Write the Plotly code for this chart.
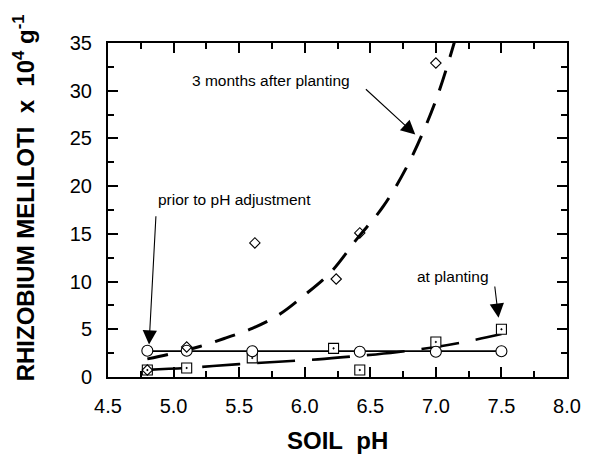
import plotly.graph_objects as go

# ---- data ----
ph_prior = [4.8, 5.1, 5.6, 6.42, 7.0, 7.5]
prior_vals = [2.75, 2.75, 2.7, 2.65, 2.65, 2.7]
prior_fit_ph = [4.8, 7.5]
prior_fit_vals = [2.72, 2.72]

ph_planting = [4.8, 5.1, 5.6, 6.22, 6.42, 7.0, 7.5]
planting_vals = [0.73, 0.95, 2.0, 3.0, 0.73, 3.67, 5.0]
planting_fit_ph = [4.8, 5.1, 5.5, 5.8, 6.1, 6.4, 6.7, 7.0, 7.3, 7.5]
planting_fit_vals = [0.75, 0.95, 1.35, 1.6, 1.85, 2.2, 2.6, 3.15, 3.9, 4.5]

ph_3mo = [4.8, 5.1, 5.62, 6.24, 6.42, 7.0]
mo3_vals = [0.73, 3.15, 14.05, 10.27, 15.1, 32.9]
mo3_fit_ph = [4.8, 5.0, 5.2, 5.4, 5.6, 5.8, 6.0, 6.2, 6.4, 6.6, 6.8, 7.0, 7.15]
mo3_fit_vals = [1.9, 2.5, 3.2, 4.1, 5.1, 6.5, 8.6, 11.0, 14.5, 17.9, 22.6, 29.0, 35.5]

x_ticks = [4.5, 5.0, 5.5, 6.0, 6.5, 7.0, 7.5, 8.0]
y_ticks = [0, 5, 10, 15, 20, 25, 30, 35]
x_range = [4.5, 8.0]
y_range = [0, 35]

FONT = "Arial, Liberation Sans, Helvetica, sans-serif"

fig = go.Figure()

fig.add_trace(go.Scatter(x=mo3_fit_ph, y=mo3_fit_vals, mode="lines",
                         line=dict(color="black", width=3, dash="21px,14px", shape="spline"),
                         hoverinfo="skip"))
fig.add_trace(go.Scatter(x=planting_fit_ph, y=planting_fit_vals, mode="lines",
                         line=dict(color="black", width=2.6, dash="38px,17px", shape="spline"),
                         hoverinfo="skip"))
fig.add_trace(go.Scatter(x=prior_fit_ph, y=prior_fit_vals, mode="lines",
                         line=dict(color="black", width=1.8), hoverinfo="skip"))

fig.add_trace(go.Scatter(x=ph_planting, y=planting_vals, mode="markers",
                         marker=dict(symbol="square-dot", size=10, color="white",
                                     line=dict(color="black", width=1.1))))
fig.add_trace(go.Scatter(x=ph_prior, y=prior_vals, mode="markers",
                         marker=dict(symbol="circle", size=11, color="white",
                                     line=dict(color="black", width=1.1))))
fig.add_trace(go.Scatter(x=ph_3mo, y=mo3_vals, mode="markers",
                         marker=dict(symbol="diamond-open", size=8, color="black",
                                     line=dict(color="black", width=1.1))))

tickfont = dict(family=FONT, size=20, color="black")
axis_common = dict(
    showline=True, linecolor="black", linewidth=2, mirror=True,
    ticks="inside", tickcolor="black", tickwidth=1.5, ticklen=10,
    showgrid=False, zeroline=False, tickfont=tickfont,
)
xminor = dict(ticks="inside", dtick=0.25, tick0=4.5, ticklen=6, tickwidth=1.5, tickcolor="black")
yminor = dict(ticks="inside", dtick=2.5, tick0=0, ticklen=6, tickwidth=1.5, tickcolor="black")

fig.update_layout(
    xaxis=dict(range=x_range, tickvals=x_ticks, ticktext=[f"{v:.1f}" for v in x_ticks],
               minor=xminor, ticklabelstandoff=10, **axis_common),
    yaxis=dict(range=y_range, tickvals=y_ticks, minor=yminor,
               ticklabelstandoff=10, **axis_common),
    xaxis2=dict(range=x_range, tickvals=x_ticks, overlaying="x", side="top", anchor="y",
                showticklabels=False, showline=False, showgrid=False, zeroline=False,
                ticks="inside", ticklen=10, tickwidth=1.5, tickcolor="black", minor=xminor),
    yaxis2=dict(range=y_range, tickvals=y_ticks, overlaying="y", side="right", anchor="x",
                showticklabels=False, showline=False, showgrid=False, zeroline=False,
                ticks="inside", ticklen=10, tickwidth=1.5, tickcolor="black", minor=yminor),
)
# invisible helper trace so the top/right tick axes are drawn
fig.add_trace(go.Scatter(x=[x_range[0]], y=[y_range[0]], xaxis="x2", yaxis="y2",
                         mode="markers", marker=dict(opacity=0), hoverinfo="skip"))

ann_font = dict(family=FONT, size=15.5, color="black")
arrow_style = dict(text="", showarrow=True, arrowhead=2, arrowsize=2.6, arrowwidth=1.1,
                   arrowcolor="black", xref="x", yref="y", axref="x", ayref="y")
annotations = [
    dict(x=5.74, y=31.1, xref="x", yref="y", text="3 months after planting",
         showarrow=False, font=ann_font),
    dict(x=5.466, y=18.55, xref="x", yref="y", text="prior to pH adjustment",
         showarrow=False, font=ann_font),
    dict(x=7.127, y=10.5, xref="x", yref="y", text="at planting",
         showarrow=False, font=ann_font),
    dict(x=6.843, y=25.4, ax=6.455, ay=30.3, **arrow_style),
    dict(x=4.813, y=3.4, ax=4.866, ay=17.0, **arrow_style),
    dict(x=7.478, y=6.2, ax=7.448, ay=9.64, **arrow_style),
    dict(x=0.5, y=-0.19, xref="paper", yref="paper", text="<b>SOIL&nbsp;&nbsp;pH</b>",
         showarrow=False, font=dict(family=FONT, size=24, color="black"),
         xanchor="center", yanchor="middle"),
    dict(x=-0.183, y=0.535, xref="paper", yref="paper",
         text="<b>RHIZOBIUM MELILOTI&nbsp;&nbsp;x&nbsp;&nbsp;10<sup>4</sup>&nbsp;g<sup>-1</sup></b>",
         showarrow=False, textangle=-90, font=dict(family=FONT, size=24, color="black"),
         xanchor="center", yanchor="middle"),
]

fig.update_layout(
    width=593, height=456,
    margin=dict(l=108, r=16, t=43, b=79),
    paper_bgcolor="white", plot_bgcolor="white",
    showlegend=False,
    annotations=annotations,
)

fig.write_html("out.html")
